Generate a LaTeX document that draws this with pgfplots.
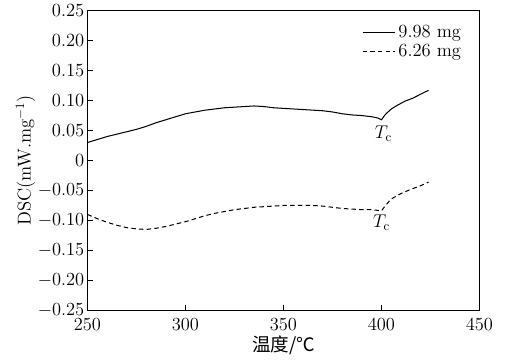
\documentclass[border=0pt]{standalone}
\usepackage{fontspec}
\usepackage{pgfplots}
\pgfplotsset{compat=1.18}
\newfontfamily\cjk{Noto Sans CJK SC}
\def\fs{\fontsize{14.5}{16}\selectfont}
\begin{document}
\begin{tikzpicture}
\begin{axis}[
  name=ax,
  scale only axis,
  width=306pt, height=234pt,
  xmin=250, xmax=450, ymin=-0.25, ymax=0.25,
  xtick={250,300,350,400,450},
  ytick={-0.25,-0.2,-0.15,-0.1,-0.05,0,0.05,0.1,0.15,0.2,0.25},
  yticklabels={$-0.25$,$-0.20$,$-0.15$,$-0.10$,$-0.05$,0,0.05,0.10,0.15,0.20,0.25},
  xtick pos=bottom, ytick pos=left,
  tick align=inside,
  major tick length=4pt,
  tick style={black, line width=0.6pt},
  axis line style={line width=0.7pt},
  ticklabel style={font=\fs},
  xticklabel style={yshift=-2.5pt},
  yticklabel style={xshift=1pt},
  label style={font=\fs},
  xlabel={\cjk 温度/℃},
  ylabel={DSC(mW.mg$^{-1}$)},
  xlabel style={yshift=2.5pt},
  ylabel style={yshift=-5pt},
  legend style={draw=none, fill=none, at={(0.97,0.965)}, anchor=north east,
    font=\fs, row sep=0pt, inner ysep=1pt},
  legend cell align=left,
  legend image code/.code={\draw[#1] (0cm,0cm) -- (0.9cm,0cm);},
]
\addplot[black, line width=0.8pt] coordinates {
(250,0.030) (255,0.035) (260,0.040) (265,0.044) (270,0.048) (275,0.052)
(280,0.057) (285,0.063) (290,0.068) (295,0.073) (300,0.078) (305,0.081)
(310,0.084) (315,0.086) (320,0.088) (325,0.089) (330,0.090) (335,0.091)
(340,0.090) (345,0.088) (350,0.087) (355,0.086) (360,0.085) (365,0.084)
(370,0.083) (375,0.081) (380,0.078) (385,0.076) (390,0.075) (395,0.073)
(398,0.071) (400,0.068) (402,0.077) (405,0.086) (408,0.092) (412,0.099)
(416,0.104) (419,0.109) (422,0.114) (424,0.117)
};
\addlegendentry{9.98 mg}
\addplot[black, line width=0.8pt, dash pattern=on 3.5pt off 2.5pt] coordinates {
(250,-0.090) (255,-0.097) (260,-0.103) (265,-0.108) (270,-0.112) (275,-0.114)
(280,-0.115) (285,-0.113) (290,-0.110) (295,-0.106) (300,-0.102) (305,-0.097)
(310,-0.092) (315,-0.088) (320,-0.085) (325,-0.082) (330,-0.080) (335,-0.078)
(340,-0.077) (345,-0.076) (350,-0.075) (355,-0.075) (360,-0.075) (365,-0.075)
(370,-0.076) (375,-0.078) (380,-0.080) (385,-0.081) (390,-0.082) (395,-0.082)
(400,-0.084) (402,-0.075) (405,-0.064) (410,-0.055) (415,-0.048) (420,-0.042)
(424,-0.036)
};
\addlegendentry{6.26 mg}
\node at (axis cs:401,0.045) {\fs$T_\mathrm{c}$};
\node at (axis cs:400,-0.104) {\fs$T_\mathrm{c}$};
\end{axis}
\path ([xshift=-9pt]ax.outer west) ([xshift=6pt]ax.outer east) ([yshift=-1pt]ax.outer south);
\end{tikzpicture}
\end{document}
